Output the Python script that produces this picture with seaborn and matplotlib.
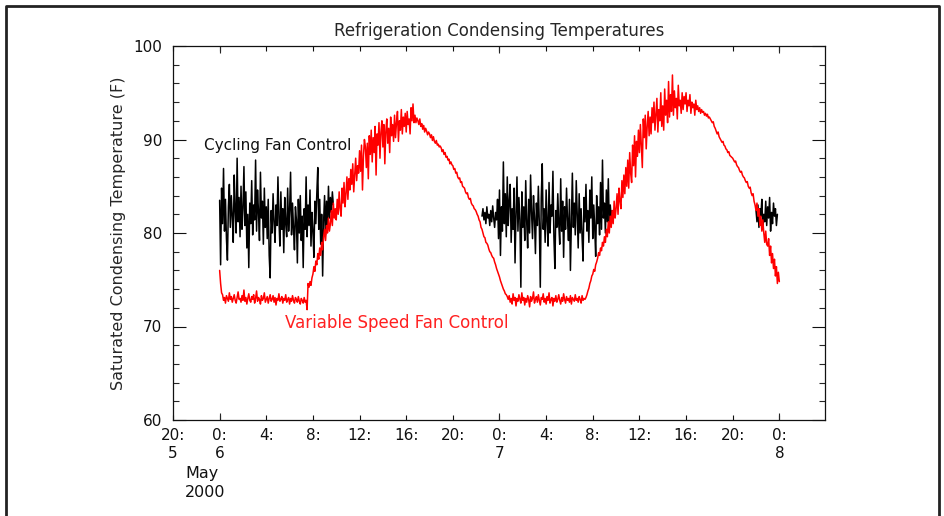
import pandas as pd
import matplotlib
matplotlib.use("Agg")
import matplotlib.pyplot as plt
import matplotlib.dates as mdates
from matplotlib.ticker import MultipleLocator, FixedLocator
from matplotlib.lines import Line2D
import seaborn as sns

# variable speed fan control, 5 minute readings from 2000-05-06 00:00
variable_start = "2000-05-06 00:00"
variable_temp = [
    # start-up
    76.0, 74.6, 73.6,
    # night plateau
    73.4, 72.8, 73.1, 72.5, 73.3, 73.0, 72.7, 73.6, 72.9, 73.2,
    72.6, 73.0, 73.4, 72.8, 72.5, 73.1, 73.7, 72.9, 73.0, 72.6,
    73.3, 72.8, 73.9, 72.7, 73.1, 72.4, 73.0, 73.5, 72.8, 72.6,
    73.2, 72.9, 73.4, 72.5, 73.0, 73.8, 72.7, 73.1, 72.9, 72.4,
    73.3, 72.8, 73.0, 73.6, 72.6, 72.9, 73.2, 72.5, 73.0, 73.4,
    72.7, 72.9, 73.3, 72.6, 73.1, 72.3, 73.0, 72.8, 73.5, 72.7,
    72.9, 73.2, 72.5, 73.0, 72.8, 73.4, 72.6, 72.9, 73.1, 72.4,
    73.0, 72.7, 73.3, 72.8, 72.5, 73.1, 72.9, 72.6, 73.2, 72.7,
    72.4, 73.0, 72.8, 72.5, 73.1, 72.6, 72.8,
    # dip
    71.8, 74.6,
    # morning rise
    74.2, 74.8, 74.4, 75.2,
    75.6, 76.4, 75.9, 77.0, 76.6, 77.8, 77.2, 78.4, 77.6, 79.0, 78.2, 79.6,
    80.4, 79.2, 80.8, 80.0, 81.6, 80.2, 81.0, 82.4, 80.8, 83.2, 81.6, 82.6,
    81.4, 83.6, 82.0, 84.4, 82.6, 81.8, 84.8, 83.2, 85.4, 82.8, 84.2, 86.0,
    83.6, 85.8, 84.6, 86.8, 85.2, 87.4, 84.4, 86.2, 88.0, 85.6, 87.2, 86.4,
    88.8, 86.6, 89.4, 84.6, 88.2, 90.0, 89.2, 87.0, 89.6, 85.8, 90.4, 88.4,
    91.0, 87.6, 90.2, 88.6, 91.4, 86.2, 90.6, 89.4, 91.8, 88.0, 90.8, 92.0,
    89.2, 91.6, 87.4, 90.8, 92.2, 89.6, 91.2, 88.6, 92.4, 90.4, 91.6, 89.8,
    92.6, 90.2, 91.8, 93.0, 89.8, 92.0, 91.0, 93.2, 90.6, 92.4, 91.4, 92.8,
    90.8, 93.0, 91.6, 92.2, 90.6, 93.4, 92.0, 93.8, 91.8,
    # evening fall
    92.6, 91.8, 92.3,
    92.0, 91.6, 92.2, 91.4, 91.7, 91.1, 91.5, 90.8, 91.2, 90.9, 90.5, 90.8,
    90.6, 90.2, 90.5, 89.9, 90.3, 89.8, 89.6, 89.9, 89.4, 89.5, 89.2, 89.3,
    89.1, 88.7, 88.9, 88.4, 88.6, 88.1, 88.2, 87.8, 87.9, 87.4, 87.6, 87.3,
    87.2, 86.8, 86.9, 86.4, 86.5, 86.0, 85.8, 85.9, 85.4, 85.5, 85.0, 84.9,
    84.8, 84.4, 84.2, 84.3, 83.8, 83.6, 83.7, 83.2, 83.0, 82.9, 82.6, 82.5,
    82.3, 82.0, 81.8, 81.4, 81.2, 80.6, 80.4, 80.0, 79.6, 79.5, 79.0, 78.9,
    78.7, 78.3, 78.0, 77.9, 77.6, 77.4, 77.3, 76.9, 76.6, 76.2, 75.9, 75.6,
    75.3, 74.9, 74.6, 74.3, 74.0, 73.8, 73.5, 73.4, 73.2,
    # second night plateau
    72.9, 73.3, 72.6, 73.0, 72.4, 73.5, 72.8, 73.1, 72.2, 73.0,
    72.7, 73.4, 72.9, 72.5, 73.6, 72.8, 73.1, 72.3, 73.0, 72.6,
    73.3, 72.9, 72.1, 73.2, 72.7, 73.0, 73.7, 72.5, 72.9, 73.2,
    72.6, 73.4, 72.8, 72.3, 73.1, 72.9, 73.5, 72.6, 73.0, 72.4,
    73.2, 72.8, 73.6, 72.5, 72.9, 73.1, 72.2, 73.0, 72.7, 73.3,
    72.6, 72.9, 73.4, 72.8, 72.4, 73.1, 72.7, 73.5, 72.9, 72.5,
    73.2, 72.8, 73.0, 72.6, 73.3, 72.4, 73.1, 72.9, 72.7, 73.4,
    72.8, 73.0, 72.6, 73.2, 72.9, 72.5, 73.3, 72.8, 73.0, 72.9,
    # second day rise
    73.1, 73.4, 73.8, 74.1, 74.6, 74.9, 75.4,
    75.6, 76.1, 75.9, 76.6, 76.9, 77.3, 77.9, 77.6, 78.4, 78.1, 79.0, 78.6,
    79.6, 79.0, 80.4, 79.6, 81.2, 80.0, 81.8, 80.6, 82.4, 81.0, 83.4, 81.6,
    82.6, 84.2, 82.0, 84.8, 83.4, 82.6, 85.6, 83.8, 86.2, 84.2, 87.0, 85.0,
    87.8, 84.8, 88.6, 86.4, 85.4, 89.4, 87.2, 90.4, 86.0, 89.8, 88.2, 91.0,
    88.6, 91.6, 89.4, 87.0, 92.2, 90.2, 92.6, 89.0, 91.4, 93.0, 90.4, 92.4,
    90.6, 93.4, 91.8, 94.0, 91.0, 92.8, 94.4, 90.8, 93.2, 92.0, 95.0, 91.4,
    93.6, 91.0, 95.4, 92.6, 94.2, 91.8, 96.2, 92.4, 94.8, 93.0, 96.9, 92.6,
    95.2, 93.4, 94.4, 92.2, 95.8, 93.6, 94.2, 92.8, 95.0, 93.2, 94.6, 93.8,
    95.0, 93.0, 94.2, 93.6, 94.8, 92.8, 94.0, 93.4, 93.8, 92.6, 94.2, 93.2,
    93.6, 93.0, 93.4, 92.8, 93.2, 92.9, 93.0, 92.6, 92.8, 92.5, 92.7, 92.3,
    92.4,
    # second evening fall
    92.2, 92.0, 91.8, 91.9, 91.4, 91.2, 90.9, 90.6, 90.8, 90.3, 90.1,
    89.9, 89.7, 89.8, 89.4, 89.3, 89.0, 88.9, 88.6, 88.7, 88.3, 88.2, 88.1,
    88.0, 87.8, 87.6, 87.7, 87.3, 87.1, 87.0, 86.7, 86.5, 86.6, 86.2, 86.0,
    85.9, 85.6, 85.4, 85.5, 85.0, 84.8, 84.9, 84.3, 84.0, 84.2, 83.4, 83.0,
    82.4, 83.2, 81.8, 82.6, 80.8, 81.8, 80.2, 81.4, 80.0, 79.0, 80.2, 78.8,
    78.6, 79.4, 77.6, 78.6, 76.8, 77.8, 76.2, 77.2, 75.4, 76.4, 74.6, 75.8,
    74.8,
]

# cycling fan control, 5 minute readings, the stretches that show above the red trace
cycling_starts = ["2000-05-06 00:00", "2000-05-06 22:30", "2000-05-07 22:00"]
cycling_night1 = [
    83.5, 76.6, 84.8, 81.0, 86.9, 80.2, 83.6, 79.4, 77.1, 82.8,
    85.2, 80.6, 84.0, 81.8, 79.0, 86.2, 82.4, 80.0, 88.0, 81.2,
    83.8, 79.6, 85.0, 80.4, 82.6, 87.1, 80.8, 84.4, 78.4, 82.0,
    76.3, 83.2, 81.0, 85.6, 79.8, 83.0, 81.4, 87.8, 80.2, 84.6,
    82.2, 79.2, 86.5, 81.6, 83.4, 78.8, 84.8, 80.6, 82.8, 79.4,
    83.6, 77.6, 75.2, 82.4, 80.0, 84.2, 81.2, 79.0, 83.0, 80.8,
    86.0, 81.6, 78.6, 84.4, 80.4, 82.6, 77.9, 83.8, 81.0, 79.6,
    84.8, 80.2, 82.4, 86.5, 79.8, 83.2, 80.6, 78.2, 82.8, 81.4,
    76.8, 83.6, 80.0, 84.0, 79.2, 81.8, 76.3, 82.6, 80.4, 86.0,
    79.6, 83.0, 80.8, 84.6, 78.6, 82.2, 80.2, 77.4, 83.4, 81.0,
    84.2, 87.0, 80.4, 83.6, 78.8, 82.0, 75.4, 81.2, 84.0, 79.8,
    83.4, 80.6, 85.0, 81.6, 83.8, 82.2, 84.4, 83.0,
]
cycling_night2 = [
    81.8, 82.6, 81.4, 82.2, 81.0, 82.8, 81.6, 82.0, 80.8, 82.4, 81.2, 82.9, 81.6, 80.6, 82.2, 81.4,
    83.6, 79.4, 84.6, 77.6, 82.8, 80.2, 87.6, 81.0, 84.2, 79.6, 86.0, 80.8, 83.4, 85.2,
    79.0, 82.6, 80.4, 84.8, 76.8, 82.0, 86.0, 80.2, 83.8, 81.4, 74.2, 84.4, 80.6, 82.8, 79.2,
    85.6, 81.2, 78.4, 83.6, 80.0, 86.2, 82.2, 79.4, 84.0, 81.6, 77.8, 83.2, 80.8, 85.0, 81.0,
    74.2, 83.8, 87.4, 80.4, 82.6, 79.0, 84.6, 81.2, 78.6, 85.4, 80.0, 83.0, 81.8, 86.6, 79.6,
    76.2, 82.4, 80.6, 84.2, 81.0, 78.8, 85.8, 80.2, 83.4, 77.4, 82.8, 80.4, 84.8, 81.4, 79.2,
    83.6, 76.0, 81.0, 86.4, 80.6, 83.2, 79.8, 85.6, 81.8, 78.4, 84.2, 80.0, 82.6, 79.6, 77.0,
    83.8, 81.2, 85.2, 80.2, 82.4, 79.0, 84.6, 81.6, 86.0, 79.4, 83.0, 80.6, 77.5, 84.0, 81.0,
    82.8, 79.8, 85.4, 80.4, 87.8, 81.6, 83.2, 80.0, 84.6, 81.2, 85.8, 80.8, 83.0, 81.6, 82.4,
]
cycling_night3 = [
    82.4, 81.2, 83.0, 80.6, 82.6, 81.8, 83.6, 80.4, 82.0, 81.2, 83.4, 80.8,
    82.8, 81.6, 83.8, 80.2, 82.2, 81.0, 83.2, 81.8, 82.6, 80.8, 82.0,
]

tick_labels = ["20:\n5", "0:\n6", "4:", "8:", "12:", "16:", "20:", "0:\n7",
               "4:", "8:", "12:", "16:", "20:", "0:\n8"]

sns.set_style("ticks")
plt.rcParams["font.family"] = ["DejaVu Sans"]

fig = plt.figure(figsize=(9.45, 5.16), dpi=100)
ax = fig.add_axes([173 / 945, 1 - 420 / 516, 652 / 945, 374 / 516])

for start, vals in zip(cycling_starts, [cycling_night1, cycling_night2, cycling_night3]):
    t = pd.date_range(start, periods=len(vals), freq="5min")
    sns.lineplot(x=t, y=vals, color="black", linewidth=1.1, estimator=None, ax=ax)

t = pd.date_range(variable_start, periods=len(variable_temp), freq="5min")
sns.lineplot(x=t, y=variable_temp, color="#ff0000", linewidth=1.1, estimator=None, ax=ax)

ax.set_xlim(pd.Timestamp("2000-05-05 20:00"), pd.Timestamp("2000-05-08 03:55"))
ax.set_ylim(60, 100)

ticks = pd.date_range("2000-05-05 20:00", "2000-05-08 00:00", freq="4h")
ax.set_xticks(ticks)
ax.set_xticklabels(tick_labels)
days = pd.date_range("2000-05-06", "2000-05-08", freq="D")
ax.xaxis.set_minor_locator(FixedLocator(mdates.date2num(days)))
ax.xaxis.remove_overlapping_locs = False
ax.yaxis.set_major_locator(MultipleLocator(10))
ax.yaxis.set_minor_locator(MultipleLocator(2))

ax.tick_params(axis="x", which="major", direction="in", length=3.6, width=0.8,
               top=True, bottom=True, labelsize=11, pad=6, colors="#111111")
ax.tick_params(axis="x", which="minor", direction="in", length=5.2, width=0.8,
               top=True, bottom=True)
ax.tick_params(axis="y", which="major", direction="in", length=9.4, width=0.8,
               left=True, right=True, labelsize=11, pad=8, colors="#111111")
ax.tick_params(axis="y", which="minor", direction="in", length=4.3, width=0.8,
               left=True, right=True)
for s in ax.spines.values():
    s.set_visible(True)
    s.set_linewidth(0.9)
    s.set_color("#111111")

ax.set_xlabel("")
ax.set_ylabel("Saturated Condensing Temperature (F)", fontsize=11.5, labelpad=5)
ax.set_title("Refrigeration Condensing Temperatures", fontsize=12, pad=7)

ax.text(mdates.date2num(pd.Timestamp("2000-05-05 22:38")), 89.4, "Cycling Fan Control",
        fontsize=11, color="#111111", va="center", ha="left")
ax.text(mdates.date2num(pd.Timestamp("2000-05-06 05:34")), 70.4, "Variable Speed Fan Control",
        fontsize=12, color="#ff2020", va="center", ha="left")

fig.text(185 / 945, 1 - 466 / 516, "May\n2000", fontsize=11.5, color="#111111",
         va="top", ha="left", linespacing=1.35)

# plot window border
fig.add_artist(Line2D([6 / 945, 6 / 945, 939 / 945, 939 / 945], [-0.01, 1 - 6 / 516, 1 - 6 / 516, -0.01],
                      transform=fig.transFigure, color="#222222", linewidth=2))

fig.savefig("out.png", dpi=100)
